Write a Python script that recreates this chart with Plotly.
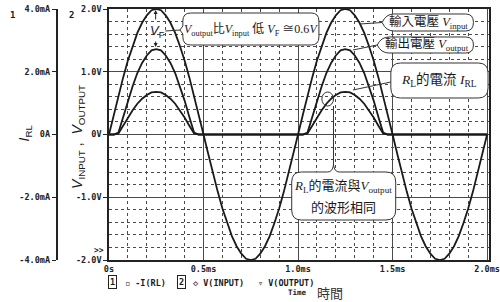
import plotly.graph_objects as go

# ---------------- data ----------------
time_ms = [0.000, 0.025, 0.050, 0.075, 0.100, 0.125, 0.150, 0.175, 0.200, 0.225,
           0.250, 0.275, 0.300, 0.325, 0.350, 0.375, 0.400, 0.425, 0.450, 0.475,
           0.500, 0.525, 0.550, 0.575, 0.600, 0.625, 0.650, 0.675, 0.700, 0.725,
           0.750, 0.775, 0.800, 0.825, 0.850, 0.875, 0.900, 0.925, 0.950, 0.975,
           1.000, 1.025, 1.050, 1.075, 1.100, 1.125, 1.150, 1.175, 1.200, 1.225,
           1.250, 1.275, 1.300, 1.325, 1.350, 1.375, 1.400, 1.425, 1.450, 1.475,
           1.500, 1.525, 1.550, 1.575, 1.600, 1.625, 1.650, 1.675, 1.700, 1.725,
           1.750, 1.775, 1.800, 1.825, 1.850, 1.875, 1.900, 1.925, 1.950, 1.975,
           2.000]

v_input = [0.00, 0.31, 0.62, 0.91, 1.18, 1.41, 1.62, 1.78, 1.90, 1.98,
           2.00, 1.98, 1.90, 1.78, 1.62, 1.41, 1.18, 0.91, 0.62, 0.31,
           0.00, -0.31, -0.62, -0.91, -1.18, -1.41, -1.62, -1.78, -1.90, -1.98,
           -2.00, -1.98, -1.90, -1.78, -1.62, -1.41, -1.18, -0.91, -0.62, -0.31,
           0.00, 0.31, 0.62, 0.91, 1.18, 1.41, 1.62, 1.78, 1.90, 1.98,
           2.00, 1.98, 1.90, 1.78, 1.62, 1.41, 1.18, 0.91, 0.62, 0.31,
           0.00, -0.31, -0.62, -0.91, -1.18, -1.41, -1.62, -1.78, -1.90, -1.98,
           -2.00, -1.98, -1.90, -1.78, -1.62, -1.41, -1.18, -0.91, -0.62, -0.31,
           0.00]

v_output = [0.00, 0.00, 0.03, 0.28, 0.54, 0.77, 0.98, 1.14, 1.26, 1.34,
            1.36, 1.34, 1.26, 1.14, 0.98, 0.77, 0.54, 0.28, 0.03, 0.00,
            0.00, 0.00, 0.00, 0.00, 0.00, 0.00, 0.00, 0.00, 0.00, 0.00,
            0.00, 0.00, 0.00, 0.00, 0.00, 0.00, 0.00, 0.00, 0.00, 0.00,
            0.00, 0.00, 0.03, 0.28, 0.54, 0.77, 0.98, 1.14, 1.26, 1.34,
            1.36, 1.34, 1.26, 1.14, 0.98, 0.77, 0.54, 0.28, 0.03, 0.00,
            0.00, 0.00, 0.00, 0.00, 0.00, 0.00, 0.00, 0.00, 0.00, 0.00,
            0.00, 0.00, 0.00, 0.00, 0.00, 0.00, 0.00, 0.00, 0.00, 0.00,
            0.00]

i_rl_mA = [0.00, 0.00, 0.03, 0.28, 0.54, 0.77, 0.98, 1.14, 1.26, 1.34,
           1.36, 1.34, 1.26, 1.14, 0.98, 0.77, 0.54, 0.28, 0.03, 0.00,
           0.00, 0.00, 0.00, 0.00, 0.00, 0.00, 0.00, 0.00, 0.00, 0.00,
           0.00, 0.00, 0.00, 0.00, 0.00, 0.00, 0.00, 0.00, 0.00, 0.00,
           0.00, 0.00, 0.03, 0.28, 0.54, 0.77, 0.98, 1.14, 1.26, 1.34,
           1.36, 1.34, 1.26, 1.14, 0.98, 0.77, 0.54, 0.28, 0.03, 0.00,
           0.00, 0.00, 0.00, 0.00, 0.00, 0.00, 0.00, 0.00, 0.00, 0.00,
           0.00, 0.00, 0.00, 0.00, 0.00, 0.00, 0.00, 0.00, 0.00, 0.00,
           0.00]

x_tickvals = [0, 0.5, 1.0, 1.5, 2.0]
x_ticktext = ["0s", "0.5ms", "1.0ms", "1.5ms", "2.0ms"]
v_tickvals = [-2, -1, 0, 1, 2]
v_ticktext = ["-2.0V", "-1.0V", "0V", "1.0V", "2.0V"]
i_tickvals = [-4, -2, 0, 2, 4]
i_ticktext = ["-4.0mA", "-2.0mA", "0A", "2.0mA", "4.0mA"]

# ---------------- layout helpers ----------------
W, H = 500, 302
ML, MR, MT, MB = 0, 2, 9, 42
PW = W - ML - MR
PH = H - MT - MB
PLOT_LEFT = 107


def px(x):
    return (x - ML) / PW


def py(y):
    return (H - MB - y) / PH


def P(x, y):
    return f"{px(x):.5f},{py(y):.5f}"


def rrect(x0, y0, x1, y1, r):
    return (f"M{P(x0 + r, y0)} L{P(x1 - r, y0)} Q{P(x1, y0)} {P(x1, y0 + r)} "
            f"L{P(x1, y1 - r)} Q{P(x1, y1)} {P(x1 - r, y1)} L{P(x0 + r, y1)} "
            f"Q{P(x0, y1)} {P(x0, y1 - r)} L{P(x0, y0 + r)} Q{P(x0, y0)} {P(x0 + r, y0)} Z")


INK = "#1a1a1a"
GRID = "#4a4a4a"
MONO = "DejaVu Sans Mono"
CJK = "Liberation Serif, Noto Sans CJK TC"

fig = go.Figure()
fig.add_trace(go.Scatter(x=time_ms, y=v_input, mode="lines", name="V(INPUT)",
                         line=dict(color=INK, width=1.8)))
fig.add_trace(go.Scatter(x=time_ms, y=v_output, mode="lines", name="V(OUTPUT)",
                         line=dict(color=INK, width=1.8)))
fig.add_trace(go.Scatter(x=time_ms, y=i_rl_mA, mode="lines", name="-I(RL)",
                         yaxis="y2", line=dict(color=INK, width=1.8)))

tickfont = dict(family=MONO, size=8.5, color="#222", weight="bold")

fig.update_layout(
    width=W, height=H,
    margin=dict(l=ML, r=MR, t=MT, b=MB, pad=0),
    paper_bgcolor="white", plot_bgcolor="white",
    showlegend=False,
    xaxis=dict(domain=[px(PLOT_LEFT), 1], range=[0, 2.01],
               tickmode="array", tickvals=x_tickvals, ticktext=x_ticktext,
               ticklabeloverflow="allow",
               showgrid=True, gridcolor=GRID, gridwidth=1,
               minor=dict(dtick=0.1, tick0=0, showgrid=True, gridcolor=GRID,
                          griddash="dot", gridwidth=1),
               showline=True, linecolor="#222", linewidth=1.5, mirror=True,
               zeroline=False, ticks="", tickfont=tickfont),
    yaxis=dict(range=[-2, 2], tickmode="array", tickvals=v_tickvals, ticktext=v_ticktext,
               showgrid=True, gridcolor=GRID, gridwidth=1,
               minor=dict(dtick=0.2, tick0=0, showgrid=True, gridcolor=GRID,
                          griddash="dot", gridwidth=1),
               showline=True, linecolor="#222", linewidth=1.5, mirror=True,
               zeroline=False, ticks="outside", ticklen=4, tickcolor="#222",
               tickfont=tickfont),
    yaxis2=dict(range=[-4, 4], overlaying="y", anchor="free", position=px(53),
                side="left", tickmode="array", tickvals=i_tickvals, ticktext=i_ticktext,
                showgrid=False, zeroline=False, showline=True, linecolor="#222",
                linewidth=1.5, ticks="outside", ticklen=4, tickcolor="#222",
                tickfont=tickfont),
)

ann = []


def text(x, y, s, size=12, family=CJK, xanchor="center", angle=0, color="#1a1a1a",
         weight="normal", **kw):
    ann.append(dict(x=px(x), y=py(y), xref="paper", yref="paper", text=s,
                    showarrow=False, xanchor=xanchor, yanchor="middle",
                    textangle=angle,
                    font=dict(family=family, size=size, color=color, weight=weight), **kw))


# axis titles and channel numbers
text(21, 133, "<i>I</i><sub>RL</sub>", size=14, family="Liberation Sans", angle=-90)
text(75, 137, "<i>V</i><sub>INPUT</sub> ,  <i>V</i><sub>OUTPUT</sub>", size=14,
     family="Liberation Sans", angle=-90)
text(8, 15, "1", size=9, family=MONO, weight="bold")
text(68, 15, "2", size=9, family=MONO, weight="bold")
text(97, 250, "&gt;&gt;", size=8, family=MONO, weight="bold")

# bottom legend
text(111, 282, "1", size=8.5, family=MONO, weight="bold", bordercolor="#222",
     borderwidth=1, borderpad=1)
text(121, 283, "▫ -I(RL)", size=8.5, family=MONO, xanchor="left", weight="bold")
text(182, 282, "2", size=8.5, family=MONO, weight="bold", bordercolor="#222",
     borderwidth=1, borderpad=1)
text(191, 283, "◇ V(INPUT)", size=8.5, family=MONO, xanchor="left", weight="bold")
text(258, 283, "▿ V(OUTPUT)", size=8.5, family=MONO, xanchor="left", weight="bold")
text(313, 293, "Time", size=7.5, family=MONO, xanchor="right", weight="bold")
text(334, 292, "時間", size=13, family="Noto Sans CJK TC", color="#333")

# annotation boxes
shapes = []
WHITE_BOX = dict(type="path", xref="paper", yref="paper", fillcolor="white",
                 line=dict(color="#333", width=1), layer="above")

# box 1 with a notch on the left pointing to V_F
x0, y0, x1, y1, r, ym = 183, 13, 323, 45, 8, 30
path1 = (f"M{P(x0 + r, y0)} L{P(x1 - r, y0)} Q{P(x1, y0)} {P(x1, y0 + r)} "
         f"L{P(x1, y1 - r)} Q{P(x1, y1)} {P(x1 - r, y1)} L{P(x0 + r, y1)} "
         f"Q{P(x0, y1)} {P(x0, y1 - r)} L{P(x0, ym + 4)} L{P(x0 - 3, ym)} "
         f"L{P(x0, ym - 4)} L{P(x0, y0 + r)} Q{P(x0, y0)} {P(x0 + r, y0)} Z")
shapes.append(dict(WHITE_BOX, path=path1))

# box 2 / box 3: pill shapes with pointed left end
path2 = (f"M{P(388, 22.5)} Q{P(392, 14)} {P(400, 14)} L{P(474, 14)} Q{P(482, 14)} {P(482, 22.5)} "
         f"Q{P(482, 31)} {P(474, 31)} L{P(400, 31)} Q{P(392, 31)} {P(388, 22.5)} Z")
shapes.append(dict(WHITE_BOX, path=path2))
path3 = (f"M{P(383, 45)} Q{P(387, 37)} {P(395, 37)} L{P(474, 37)} Q{P(482, 37)} {P(482, 45)} "
         f"Q{P(482, 53)} {P(474, 53)} L{P(395, 53)} Q{P(387, 53)} {P(383, 45)} Z")
shapes.append(dict(WHITE_BOX, path=path3))

# box 4
shapes.append(dict(WHITE_BOX, path=rrect(397, 63, 497, 98, 10)))

# box 5 with a point on the top edge
path5 = (f"M{P(305, 172)} L{P(332, 172)} Q{P(337, 172)} {P(338, 165)} Q{P(339, 172)} {P(344, 172)} "
         f"L{P(392, 172)} Q{P(402, 172)} {P(402, 182)} L{P(402, 210)} Q{P(402, 220)} {P(392, 220)} "
         f"L{P(305, 220)} Q{P(295, 220)} {P(295, 210)} L{P(295, 182)} Q{P(295, 172)} {P(305, 172)} Z")
shapes.append(dict(WHITE_BOX, path=path5))

LINE = dict(type="line", xref="paper", yref="paper", line=dict(color="#333", width=1),
            layer="above")


def seg(xa, ya, xb, yb):
    shapes.append(dict(LINE, x0=px(xa), y0=py(ya), x1=px(xb), y1=py(yb)))


seg(165, 31, 180, 30)      # V_F to box 1
seg(365, 24, 388, 22.5)    # input curve to box 2
seg(358, 50, 383, 45)      # output curve to box 3
seg(358, 90, 397, 82)      # current curve to box 4
seg(338, 106, 338, 165)    # circle to box 5
shapes.append(dict(type="circle", xref="paper", yref="paper", x0=px(326), x1=px(338),
                   y0=py(106), y1=py(92), line=dict(color="#333", width=1), layer="above"))

fig.update_layout(shapes=shapes)

# V_F arrows
for hx, hy, ay in [(155, 10, 11), (155, 47, -7)]:
    ann.append(dict(x=px(hx), y=py(hy), xref="paper", yref="paper", text="",
                    showarrow=True, ax=0, ay=ay, arrowhead=2, arrowsize=0.8,
                    arrowwidth=1, arrowcolor="#222"))
text(157, 31, "<i>V</i><sub>F</sub>", size=13, family="Liberation Sans")

# box texts
text(253, 29, "<i>V</i><sub>output</sub>比<i>V</i><sub>input</sub> 低 <i>V</i><sub>F</sub> ≅0.6<i>V</i>",
     size=12)
text(436, 22.5, "輸入電壓 <i>V</i><sub>input</sub>", size=12.5)
text(434, 45, "輸出電壓 <i>V</i><sub>output</sub>", size=12.5)
text(447, 81, "<i>R</i><sub>L</sub>的電流 <i>I</i><sub>RL</sub>", size=13.5)
text(348, 186, "<i>R</i><sub>L</sub>的電流與<i>V</i><sub>output</sub>", size=13)
text(348, 207, "的波形相同", size=13)

fig.update_layout(annotations=ann)

fig.write_html("out.html")
